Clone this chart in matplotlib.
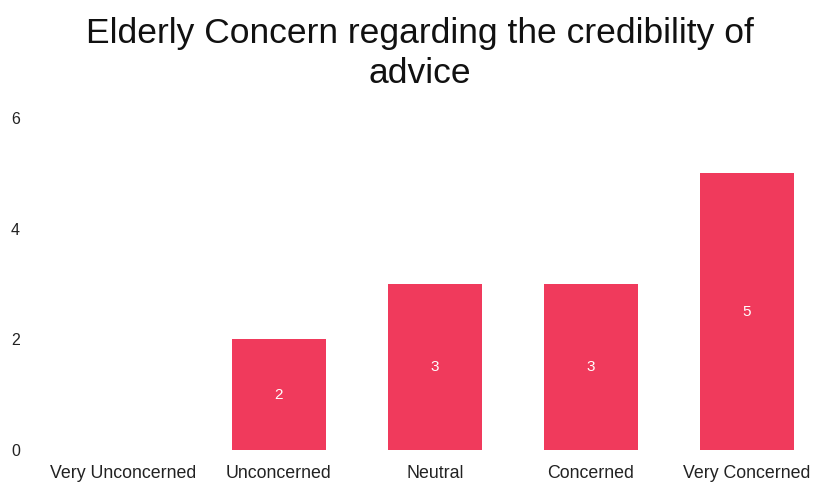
import matplotlib
matplotlib.use("Agg")
import matplotlib.pyplot as plt

categories = ["Very Unconcerned", "Unconcerned", "Neutral", "Concerned", "Very Concerned"]
counts = [0, 2, 3, 3, 5]
y_ticks = [0, 2, 4, 6]

plt.rcParams["font.family"] = ["Liberation Sans", "DejaVu Sans"]

fig = plt.figure(figsize=(8.17, 4.86), dpi=100)
ax = fig.add_axes([45 / 817, 36 / 486, (817 - 45) / 817, (450 - 118) / 486])

bar_color = "#F03A5C"
x = list(range(len(categories)))
bars = ax.bar(x, counts, width=0.6, color=bar_color)

for xi, v in zip(x, counts):
    if v > 0:
        ax.text(xi, v / 2, str(v), ha="center", va="center", color="white", fontsize=11)

ax.set_xlim(-0.5, 4.45)
ax.set_ylim(0, 6)
ax.set_yticks(y_ticks)
ax.set_xticks(x)
ax.set_xticklabels(categories, fontsize=12.8, color="#222222")
ax.tick_params(axis="y", labelsize=11.5, colors="#222222", length=0, pad=18)
ax.tick_params(axis="x", length=0, pad=11)
for s in ax.spines.values():
    s.set_visible(False)

fig.suptitle("Elderly Concern regarding the credibility of\nadvice", fontsize=25.5,
             x=420 / 817, y=0.965, va="top", color="#111111", linespacing=1.25)

fig.savefig("out.png", dpi=100)
